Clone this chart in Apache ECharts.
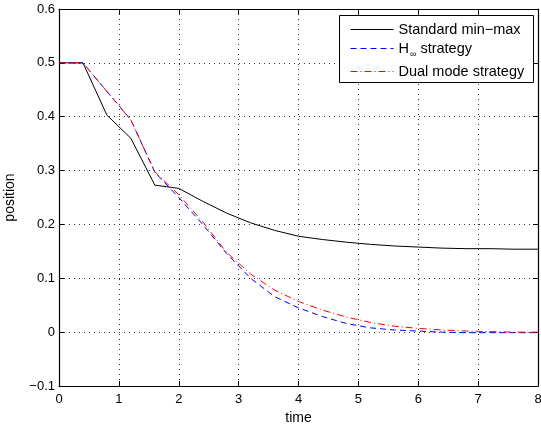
<!DOCTYPE html>
<html>
<head>
<meta charset="utf-8">
<script src="https://cdn.jsdelivr.net/npm/echarts@6/dist/echarts.min.js"></script>
<style>
html,body{margin:0;padding:0;background:#fff;}
#chart{width:541px;height:428px;}
</style>
</head>
<body>
<div id="chart"></div>
<script>
// ---- data ----
var times = [0, 0.4, 0.8, 1.2, 1.6, 2.0, 2.4, 2.8, 3.2, 3.6, 4.0, 4.4, 4.8, 5.2, 5.6, 6.0, 6.4, 6.8, 7.2, 7.6, 8.0];
var standardMinMax = [0.5, 0.5, 0.403, 0.360, 0.273, 0.267, 0.243, 0.221, 0.203, 0.189, 0.178, 0.172, 0.167, 0.163, 0.160, 0.158, 0.156, 0.155, 0.155, 0.154, 0.154];
var hInfStrategy = [0.5, 0.5, 0.447, 0.394, 0.297, 0.250, 0.200, 0.146, 0.100, 0.066, 0.045, 0.029, 0.016, 0.008, 0.004, 0.002, 0.000, -0.001, -0.001, -0.001, -0.001];
var dualModeStrategy = [0.5, 0.5, 0.447, 0.394, 0.298, 0.255, 0.205, 0.148, 0.108, 0.078, 0.057, 0.041, 0.028, 0.018, 0.011, 0.007, 0.004, 0.002, 0.001, 0.000, 0.000];
var seriesNames = ['Standard min\u2212max', 'H\u221E strategy', 'Dual mode strategy'];
var xTicks = [0, 1, 2, 3, 4, 5, 6, 7, 8];
var yTicks = [-0.1, 0, 0.1, 0.2, 0.3, 0.4, 0.5, 0.6];

function pairs(arr){ return times.map(function(t,i){ return [t, arr[i]]; }); }

var FONT = 'Liberation Sans';
var chart = echarts.init(document.getElementById('chart'));

var gridLeft = 59, gridTop = 9, gridRight = 3, gridBottom = 42;

function fmtY(v){
  var s = (Math.round(v*10)/10).toString();
  if (s === '-0') s = '0';
  return s.replace('-', '\u2212');
}

var tickStyle = {show:true, inside:true, length:5, lineStyle:{color:'#000', width:1}};
var axisLineStyle = {show:true, onZero:false, lineStyle:{color:'#000', width:1.2}};

function makeLegend(idx, top){
  return {
    id:'lg'+idx,
    orient:'horizontal', left:350, top:top, itemWidth:43, itemHeight:12, itemGap:0, padding:0,
    z:6, selectedMode:false,
    data:[seriesNames[idx]],
    itemStyle:{opacity:0},
    lineStyle:{width:1},
    textStyle:{fontFamily:FONT, fontSize:14.5, color:'#000',
      rich:{sub:{fontFamily:FONT, fontSize:9, color:'#000', padding:[12,0,0,1]}}},
    formatter:function(name){
      if (name === seriesNames[1]) return 'H{sub|\u221E} strategy';
      return name;
    }
  };
}

var option = {
  animation:false,
  backgroundColor:'#fff',
  textStyle:{fontFamily:FONT},
  grid:{left:gridLeft, top:gridTop, right:gridRight, bottom:gridBottom, containLabel:false, outerBoundsMode:'none'},
  graphic:[{
    type:'rect', z:5, left:339, top:15,
    shape:{width:194, height:67},
    style:{fill:'#fff', stroke:'#000', lineWidth:1}
  }],
  legend:[ makeLegend(0, 22), makeLegend(1, 41), makeLegend(2, 64) ],
  xAxis:[{
    type:'value', min:0, max:8, interval:1, position:'bottom',
    name:'time', nameLocation:'middle', nameGap:22,
    nameTextStyle:{fontFamily:FONT, fontSize:14, color:'#000'},
    axisLine:axisLineStyle, axisTick:tickStyle,
    axisLabel:{fontFamily:FONT, fontSize:13, color:'#000', margin:7,
      formatter:function(v){ return xTicks.indexOf(v) >= 0 ? String(v) : ''; }},
    splitLine:{show:true, lineStyle:{color:'#333', width:1, type:[1,4]}}
  },{
    type:'value', min:0, max:8, interval:1, position:'top',
    axisLine:axisLineStyle, axisTick:tickStyle, axisLabel:{show:false}, splitLine:{show:false}
  }],
  yAxis:[{
    type:'value', min:-0.1, max:0.6, interval:0.1, position:'left',
    name:'position', nameLocation:'middle', nameGap:42, nameRotate:90,
    nameTextStyle:{fontFamily:FONT, fontSize:14, color:'#000'},
    axisLine:axisLineStyle, axisTick:tickStyle,
    axisLabel:{fontFamily:FONT, fontSize:13, color:'#000', margin:4, formatter:fmtY},
    splitLine:{show:true, lineStyle:{color:'#333', width:1, type:[1,4]}}
  },{
    type:'value', min:-0.1, max:0.6, interval:0.1, position:'right',
    axisLine:axisLineStyle, axisTick:tickStyle, axisLabel:{show:false}, splitLine:{show:false}
  }],
  series:[{
    name:seriesNames[0], type:'line', data:pairs(standardMinMax), xAxisIndex:0, yAxisIndex:0,
    showSymbol:false, symbol:'none', smooth:false, z:3,
    lineStyle:{color:'#000', width:1, type:'solid'}, itemStyle:{color:'#000'}
  },{
    name:seriesNames[1], type:'line', data:pairs(hInfStrategy), xAxisIndex:0, yAxisIndex:0,
    showSymbol:false, symbol:'none', smooth:false, z:3,
    lineStyle:{color:'#0000ff', width:1, type:[6,4]}, itemStyle:{color:'#0000ff'}
  },{
    name:seriesNames[2], type:'line', data:pairs(dualModeStrategy), xAxisIndex:0, yAxisIndex:0,
    showSymbol:false, symbol:'none', smooth:false, z:3,
    lineStyle:{color:'#ff0000', width:1, type:[7,3,1,3]}, itemStyle:{color:'#ff0000'}
  }]
};
chart.setOption(option);
</script>
</body>
</html>
